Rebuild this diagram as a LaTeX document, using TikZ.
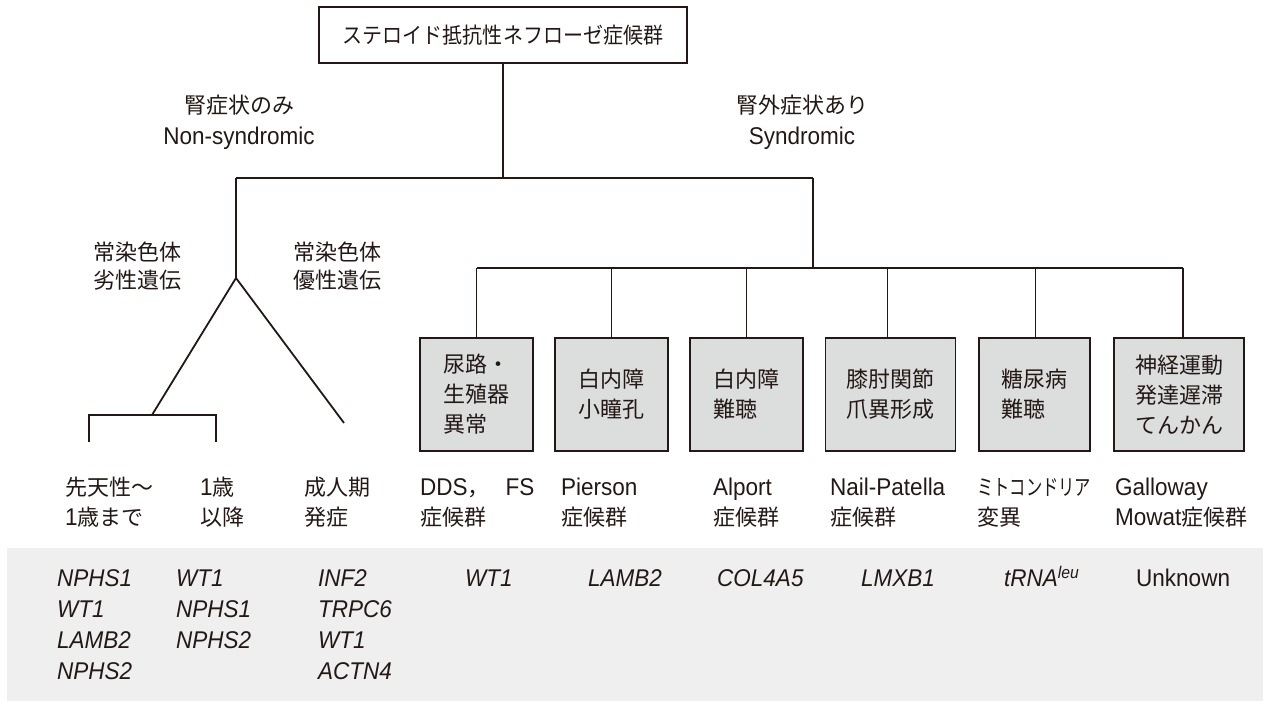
\documentclass[tikz,border=0pt]{standalone}
\usepackage{fontspec}
\setmainfont{Liberation Sans}[Scale=1.1,FakeStretch=0.93]
\newfontfamily\jp{Noto Sans CJK JP}
\definecolor{ink}{HTML}{231815}
\definecolor{boxgray}{HTML}{DCDDDD}
\definecolor{bandgray}{HTML}{EFEFEF}
\tikzset{
  every node/.style={inner sep=0pt, text=ink, font=\fontsize{22}{30}\selectfont},
  conn/.style={draw=ink, line width=1.8pt},
  lbl/.style={anchor=base west, align=left},
  jlbl/.style={anchor=base west, align=left, font=\fontsize{22}{30}\selectfont\jp},
  gene/.style={anchor=base west, align=left, font=\fontsize{22}{31}\selectfont\itshape},
  sbox/.style={draw=ink, fill=boxgray, line width=1.8pt, minimum height=113pt,
    align=left, font=\fontsize{22}{30}\selectfont\jp},
}
\begin{document}
\begin{tikzpicture}[x=1pt,y=-1pt]
\useasboundingbox (0,0) rectangle (1263,703);
% gene band
\fill[bandgray] (7,548) rectangle (1263,701);

% title
\node[draw=ink, line width=1.8pt, minimum width=368pt, minimum height=56pt] (top) at (503,35)
  {\scalebox{0.91}[1]{\jp ステロイド抵抗性ネフローゼ症候群}};

% branch labels (base = last line's baseline)
\node[anchor=base, align=center, font=\fontsize{22}{31}\selectfont] (ns) at (239,145) {{\jp 腎症状のみ}\\Non-syndromic};
\node[anchor=base, align=center, font=\fontsize{22}{31}\selectfont] (sy) at (802,145) {{\jp 腎外症状あり}\\Syndromic};
\node[jlbl, font=\fontsize{22}{28}\selectfont\jp] (ar) at (93,288) {常染色体\\劣性遺伝};
\node[jlbl, font=\fontsize{22}{28}\selectfont\jp] (ad) at (293,288) {常染色体\\優性遺伝};

% tree coordinates
\coordinate (jt) at (503,178);
\coordinate (hl) at (236,178);
\coordinate (hr) at (813,178);
\coordinate (apex) at (236,278);
\coordinate (ll) at (152,415);
\coordinate (rr) at (344,423);
\coordinate (b1) at (89,442);
\coordinate (b2) at (89,415);
\coordinate (b3) at (216,415);
\coordinate (b4) at (216,442);
\coordinate (rb) at (813,268);

% syndromic boxes
\node[sbox, minimum width=113pt] (s1) at (476.5,394.5) {尿路・\\生殖器\\異常};
\node[sbox, minimum width=113pt] (s2) at (611.5,394.5) {白内障\\小瞳孔};
\node[sbox, minimum width=113pt] (s3) at (746.5,394.5) {白内障\\難聴};
\node[sbox, minimum width=130pt] (s4) at (890.5,394.5) {膝肘関節\\爪異形成};
\node[sbox, minimum width=111pt] (s5) at (1034.5,394.5) {糖尿病\\難聴};
\node[sbox, minimum width=130pt] (s6) at (1179,394.5) {神経運動\\発達遅滞\\てんかん};

% connectors
\draw[conn] (top.south) -- (jt);
\draw[conn] (hl) -- (hr);
\draw[conn] (hl) -- (apex);
\draw[conn] (apex) -- (ll);
\draw[conn] (apex) -- (rr);
\draw[conn] (b1) -- (b2) -- (b3) -- (b4);
\draw[conn] (hr) -- (rb);
\draw[conn] (s1.north |- rb) -- ([xshift=4pt]s6.north |- rb);
\draw[conn] (s1.north) -- (s1.north |- rb);
\draw[conn] (s2.north) -- (s2.north |- rb);
\draw[conn] (s3.north) -- (s3.north |- rb);
\draw[conn] ([xshift=-3pt]s4.north) -- ([xshift=-3pt]s4.north |- rb);
\draw[conn] ([xshift=1pt]s5.north) -- ([xshift=1pt]s5.north |- rb);
\draw[conn] ([xshift=4pt]s6.north) -- ([xshift=4pt]s6.north |- rb);

% lower labels (base = second line's baseline)
\node[lbl] (l1) at (65,525) {{\jp 先天性～}\\1{\jp 歳まで}};
\node[lbl] (l2) at (200,525) {1{\jp 歳}\\{\jp 以降}};
\node[jlbl] (l3) at (304,525) {成人期\\発症};
\node[lbl] (l4) at (420,525) {DDS{\jp ，}\hspace{16pt}FS\\{\jp 症候群}};
\node[lbl] (l5) at (561,525) {Pierson\\{\jp 症候群}};
\node[lbl] (l6) at (713,525) {Alport\\{\jp 症候群}};
\node[lbl] (l7) at (830,525) {Nail-Patella\\{\jp 症候群}};
\node[lbl] (l8) at (977,525) {\scalebox{0.74}[1]{\jp ミトコンドリア}\\{\jp 変異}};
\node[lbl] (l9) at (1115,525) {Galloway\\Mowat{\jp 症候群}};

% genes (base = last line's baseline)
\node[gene] (g1) at (57,679) {NPHS1\\WT1\\LAMB2\\NPHS2};
\node[gene] (g2) at (176,648) {WT1\\NPHS1\\NPHS2};
\node[gene] (g3) at (318,679) {INF2\\TRPC6\\WT1\\ACTN4};
\node[gene] (g4) at (465,586) {WT1};
\node[gene] (g5) at (588,586) {LAMB2};
\node[gene] (g6) at (717,586) {COL4A5};
\node[gene] (g7) at (861,586) {LMXB1};
\node[gene] (g8) at (1004,586) {tRNA\textsuperscript{leu}};
\node[gene, font=\fontsize{22}{31}\selectfont] (g9) at (1136,586) {Unknown};
\end{tikzpicture}
\end{document}
